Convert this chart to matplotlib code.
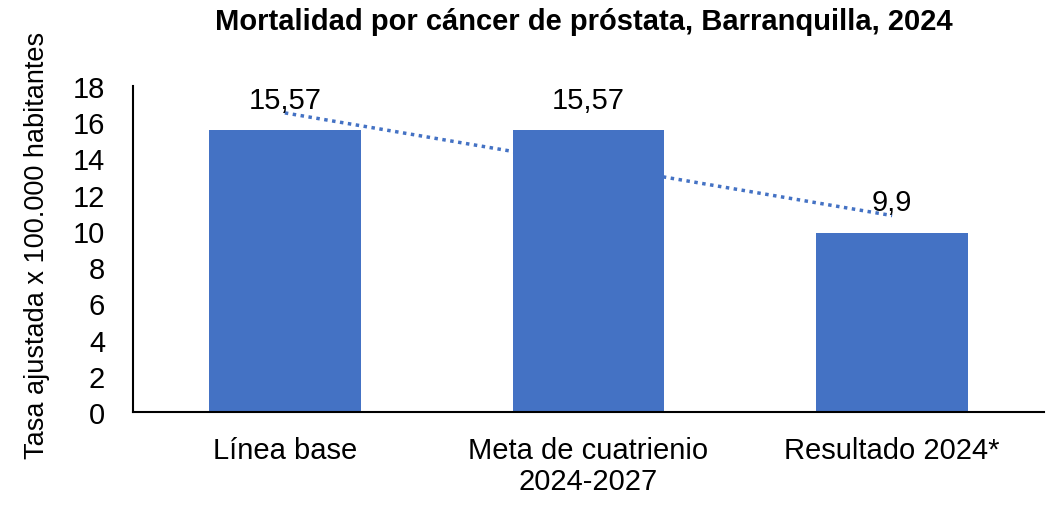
import numpy as np
import matplotlib
matplotlib.use("Agg")
import matplotlib.pyplot as plt

categories = ["Línea base", "Meta de cuatrienio\n2024-2027", "Resultado 2024*"]
values = [15.57, 15.57, 9.9]
value_labels = ["15,57", "15,57", "9,9"]
yticks = [0, 2, 4, 6, 8, 10, 12, 14, 16, 18]

plt.rcParams['font.family'] = ['Liberation Sans', 'DejaVu Sans']
color = "#4472C4"

fig = plt.figure(figsize=(10.47, 5.10), dpi=100)
ax = fig.add_axes([133/1047, 1 - 413/510, (1044 - 133)/1047, (413 - 87)/510])

x = np.arange(len(categories))
ax.bar(x, values, width=0.5, color=color, zorder=2)

# linear trendline
coef = np.polyfit(x, values, 1)
ax.plot(x, np.polyval(coef, x), linestyle=(0, (1, 1.3)), color=color, linewidth=2.5, zorder=3)

for xi, v, lab in zip(x, values, value_labels):
    ax.text(xi, v + 0.9, lab, ha="center", va="bottom", fontsize=21, color="black", zorder=4)

ax.set_xlim(-0.5, 2.5)
ax.set_ylim(0, 18)
ax.set_yticks(yticks)
ax.set_yticklabels([str(t) for t in yticks], fontsize=21)
ax.set_xticks(x)
ax.set_xticklabels(categories, fontsize=21, linespacing=1.15)
ax.tick_params(axis='y', length=0, pad=20)
ax.tick_params(axis='x', length=0, pad=17)
for s in ["top", "right"]:
    ax.spines[s].set_visible(False)
ax.spines["left"].set_linewidth(1.5)
ax.spines["bottom"].set_linewidth(1.5)

ax.set_ylabel("Tasa ajustada x 100.000 habitantes", fontsize=19.5)
ax.yaxis.set_label_coords((50 - 133) / (1044 - 133), 0.515)
fig.text(0.5 + 60/1047, 1 - 22/510, "Mortalidad por cáncer de próstata, Barranquilla, 2024",
         fontsize=21, fontweight="bold", ha="center", va="center")

fig.savefig("out.png", dpi=100)
